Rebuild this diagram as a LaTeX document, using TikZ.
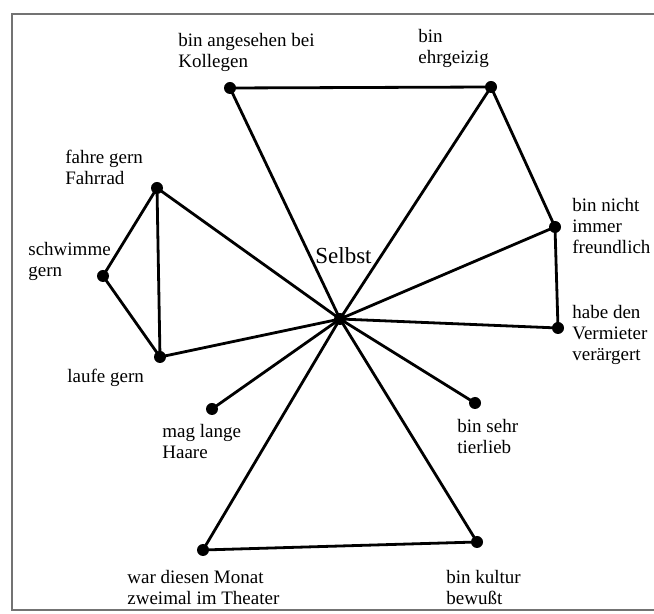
\documentclass[tikz,border=0pt]{standalone}
\usepackage{fontspec}
\setmainfont{Liberation Serif}
\usepackage{tikz}
\usetikzlibrary{positioning}

\begin{document}
\begin{tikzpicture}[
    x=0.5pt, y=-0.5pt,
    dot/.style={circle, fill=black, inner sep=0pt, minimum size=6pt},
    lbl/.style={anchor=north west, align=left, inner sep=0pt, font=\fontsize{9.5}{10.5}\selectfont},
    line/.style={draw=black, line width=1.4pt}
]
    \useasboundingbox (0,0) rectangle (654,614);
    \draw[black!55, line width=1pt] (654,14) -- (12,14) -- (12,610) -- (654,610);

    % Points
    \node[dot] (selbst) at (340,319) {};
    \node[dot] (kollegen) at (230,88) {};
    \node[dot] (ehrgeiz) at (491,87) {};
    \node[dot] (freundlich) at (555,227) {};
    \node[dot] (vermieter) at (558,328) {};
    \node[dot] (tierlieb) at (475,403) {};
    \node[dot] (kultur) at (477,542) {};
    \node[dot] (theater) at (203,550) {};
    \node[dot] (haare) at (212,409) {};
    \node[dot] (laufe) at (160,357) {};
    \node[dot] (schwimme) at (103,276) {};
    \node[dot] (fahrrad) at (157,188) {};

    % Labels
    \node[lbl, font=\fontsize{11.5}{13}\selectfont] (selbst_lbl) at (315,247) {Selbst};
    \node[lbl] (kollegen_lbl) at (178,33) {bin angesehen bei\\Kollegen};
    \node[lbl] (ehrgeiz_lbl) at (418,29) {bin\\ehrgeizig};
    \node[lbl] (freundlich_lbl) at (572,198) {bin nicht\\immer\\freundlich};
    \node[lbl] (vermieter_lbl) at (572,305) {habe den\\Vermieter\\verärgert};
    \node[lbl] (tierlieb_lbl) at (457,419) {bin sehr\\tierlieb};
    \node[lbl] (kultur_lbl) at (446,570) {bin kultur\\bewußt};
    \node[lbl] (theater_lbl) at (127,570) {war diesen Monat\\zweimal im Theater};
    \node[lbl] (haare_lbl) at (162,424) {mag lange\\Haare};
    \node[lbl] (laufe_lbl) at (67,369) {laufe gern};
    \node[lbl] (schwimme_lbl) at (28,242) {schwimme\\gern};
    \node[lbl] (fahrrad_lbl) at (65,150) {fahre gern\\Fahrrad};

    % Connectors
    \foreach \n in {kollegen, ehrgeiz, freundlich, vermieter, tierlieb, kultur, theater, haare, laufe, fahrrad}
        \draw[line] (selbst.center) -- (\n.center);
    \draw[line] (kollegen.center) -- (ehrgeiz.center) -- (freundlich.center) -- (vermieter.center);
    \draw[line] (fahrrad.center) -- (schwimme.center) -- (laufe.center) -- (fahrrad.center);
    \draw[line] (theater.center) -- (kultur.center);
\end{tikzpicture}
\end{document}
